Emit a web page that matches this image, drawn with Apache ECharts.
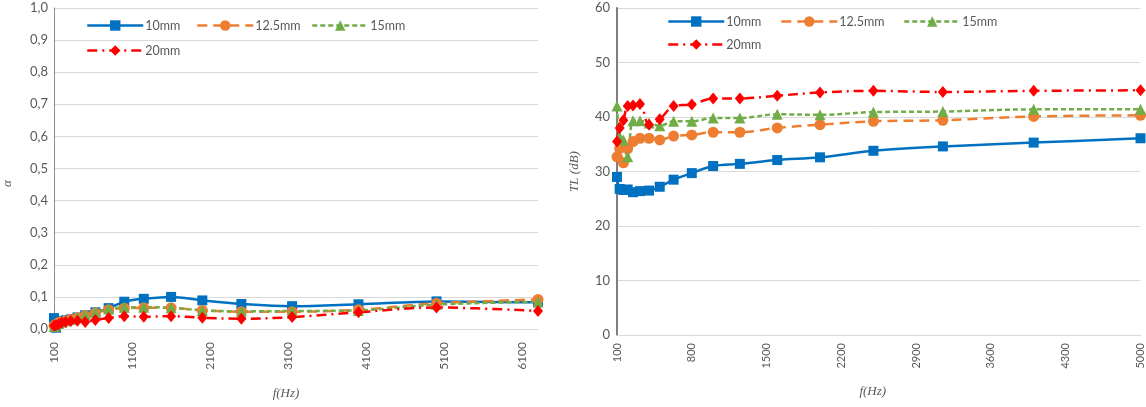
<!DOCTYPE html>
<html>
<head>
<meta charset="utf-8">
<script src="https://cdn.jsdelivr.net/npm/echarts@6/dist/echarts.min.js"></script>
<style>
  html, body { margin: 0; padding: 0; background: #ffffff; }
  #chart { width: 1146px; height: 407px; }
</style>
</head>
<body>
<div id="chart"></div>
<script>
// One-third-octave band centre frequencies (Hz)
const freqAlpha = [100, 125, 160, 200, 250, 315, 400, 500, 630, 800, 1000, 1250, 1600, 2000, 2500, 3150, 4000, 5000, 6300];
const freqTL = [100, 125, 160, 200, 250, 315, 400, 500, 630, 800, 1000, 1250, 1600, 2000, 2500, 3150, 4000, 5000];

// Sound absorption coefficient
const alpha10 = [0.034, 0.004, 0.018, 0.024, 0.027, 0.030, 0.036, 0.043, 0.052, 0.065, 0.085, 0.094, 0.100, 0.089, 0.078, 0.071, 0.077, 0.086, 0.083];
const alpha12_5 = [0.010, 0.015, 0.020, 0.022, 0.025, 0.030, 0.035, 0.042, 0.050, 0.060, 0.065, 0.066, 0.066, 0.058, 0.054, 0.054, 0.060, 0.080, 0.092];
const alpha15 = [0.008, 0.012, 0.018, 0.022, 0.026, 0.030, 0.036, 0.044, 0.052, 0.062, 0.068, 0.068, 0.066, 0.058, 0.055, 0.056, 0.058, 0.076, 0.085];
const alpha20 = [0.010, 0.012, 0.015, 0.020, 0.022, 0.025, 0.026, 0.022, 0.028, 0.034, 0.040, 0.038, 0.040, 0.035, 0.032, 0.037, 0.052, 0.067, 0.056];

// Transmission loss (dB)
const tl10 = [29.0, 26.8, 26.6, 26.7, 26.2, 26.4, 26.5, 27.2, 28.5, 29.7, 31.0, 31.4, 32.1, 32.6, 33.8, 34.6, 35.3, 36.1];
const tl12_5 = [32.7, 34.2, 31.6, 34.2, 35.5, 36.1, 36.1, 35.8, 36.5, 36.7, 37.2, 37.2, 38.0, 38.6, 39.2, 39.4, 40.1, 40.3];
const tl15 = [42.0, 36.4, 35.8, 32.7, 39.3, 39.3, 38.9, 38.4, 39.2, 39.2, 39.8, 39.8, 40.5, 40.4, 40.9, 41.0, 41.4, 41.4];
const tl20 = [35.5, 38.0, 39.4, 42.0, 42.1, 42.4, 38.6, 39.6, 42.0, 42.3, 43.4, 43.4, 43.9, 44.5, 44.8, 44.6, 44.8, 44.9];

const styles = {
  '10mm':   { color: '#0070C0', symbol: 'rect',     size: 10,      type: 'solid' },
  '12.5mm': { color: '#ED7D31', symbol: 'circle',   size: 11,      type: [10, 6] },
  '15mm':   { color: '#70AD47', symbol: 'triangle', size: 11,      type: [5, 3] },
  '20mm':   { color: '#FF0000', symbol: 'diamond',  size: [10, 12], type: [10, 5, 2, 5] }
};

const textGray = '#595959';
const gridGray = '#d9d9d9';

function pairs(xs, ys) {
  return xs.map((x, i) => [x, ys[i]]);
}

function makeSeries(name, xs, ys, idx) {
  const s = styles[name];
  return {
    name: name,
    type: 'line',
    xAxisIndex: idx,
    yAxisIndex: idx,
    data: pairs(xs, ys),
    smooth: 0.35,
    symbol: s.symbol,
    symbolSize: s.size,
    showAllSymbol: true,
    itemStyle: { color: s.color },
    lineStyle: { color: s.color, width: 2.5, type: s.type },
    emphasis: { disabled: true },
    animation: false
  };
}

function legendItem(name, left, top) {
  return {
    data: [name],
    left: left,
    top: top,
    padding: 0,
    orient: 'horizontal',
    itemWidth: 56,
    itemHeight: 13,
    itemGap: 0,
    selectedMode: false,
    lineStyle: { width: 2.5 },
    textStyle: { color: textGray, fontSize: 12.5, fontFamily: 'Lato', padding: [0, 0, 0, -3] }
  };
}

const nameFont = { color: textGray, fontSize: 13, fontFamily: 'Liberation Serif', fontStyle: 'italic' };

const option = {
  backgroundColor: '#ffffff',
  animation: false,
  legend: [
    legendItem('10mm', 86, 19),
    legendItem('12.5mm', 196, 19),
    legendItem('15mm', 311, 19),
    legendItem('20mm', 86, 44),
    legendItem('10mm', 667, 15),
    legendItem('12.5mm', 780, 15),
    legendItem('15mm', 903, 15),
    legendItem('20mm', 667, 38)
  ],
  grid: [
    { left: 53, top: 8, width: 485, height: 321 },
    { left: 617, top: 8, width: 525, height: 327 }
  ],
  xAxis: [
    {
      type: 'value', gridIndex: 0, min: 100, max: 6300, interval: 1000,
      name: 'f(Hz)', nameLocation: 'middle', nameGap: 58,
      nameTextStyle: Object.assign({}, nameFont, { padding: [0, 20, 0, 0] }),
      axisLine: { lineStyle: { color: gridGray, width: 1 } },
      axisTick: { show: false },
      splitLine: { show: false },
      axisLabel: {
        rotate: 90, color: textGray, fontSize: 12, fontFamily: 'Lato', margin: 13, showMaxLabel: false,
        formatter: v => String(v)
      }
    },
    {
      type: 'value', gridIndex: 1, min: 100, max: 5000, interval: 700,
      name: 'f(Hz)', nameLocation: 'middle', nameGap: 50,
      nameTextStyle: Object.assign({}, nameFont, { padding: [0, 12, 0, 0] }),
      axisLine: { lineStyle: { color: gridGray, width: 1 } },
      axisTick: { show: false },
      splitLine: { show: false },
      axisLabel: {
        rotate: 90, color: textGray, fontSize: 11, fontFamily: 'Lato', margin: 8,
        formatter: v => String(v)
      }
    }
  ],
  yAxis: [
    {
      type: 'value', gridIndex: 0, min: 0, max: 1, interval: 0.1,
      name: 'α', nameLocation: 'middle', nameGap: 40,
      nameTextStyle: Object.assign({}, nameFont, { padding: [0, 30, 0, 0] }),
      axisLine: { show: true, lineStyle: { color: '#8c8c8c', width: 1 } },
      axisTick: { show: false },
      splitLine: { lineStyle: { color: gridGray, width: 1 } },
      axisLabel: {
        color: textGray, fontSize: 13, fontFamily: 'Lato', margin: 6,
        formatter: v => v.toFixed(1).replace('.', ',')
      }
    },
    {
      type: 'value', gridIndex: 1, min: 0, max: 60, interval: 10,
      name: 'TL (dB)', nameLocation: 'middle', nameGap: 36,
      nameTextStyle: nameFont,
      axisLine: { show: true, lineStyle: { color: '#7f7f7f', width: 2 } },
      axisTick: { show: false },
      splitLine: { lineStyle: { color: gridGray, width: 1 } },
      axisLabel: { color: textGray, fontSize: 13, fontFamily: 'Lato', margin: 7 }
    }
  ],
  series: [
    makeSeries('10mm', freqAlpha, alpha10, 0),
    makeSeries('12.5mm', freqAlpha, alpha12_5, 0),
    makeSeries('15mm', freqAlpha, alpha15, 0),
    makeSeries('20mm', freqAlpha, alpha20, 0),
    makeSeries('10mm', freqTL, tl10, 1),
    makeSeries('12.5mm', freqTL, tl12_5, 1),
    makeSeries('15mm', freqTL, tl15, 1),
    makeSeries('20mm', freqTL, tl20, 1)
  ]
};

const chart = echarts.init(document.getElementById('chart'), null, { renderer: 'canvas' });
chart.setOption(option);
</script>
</body>
</html>
